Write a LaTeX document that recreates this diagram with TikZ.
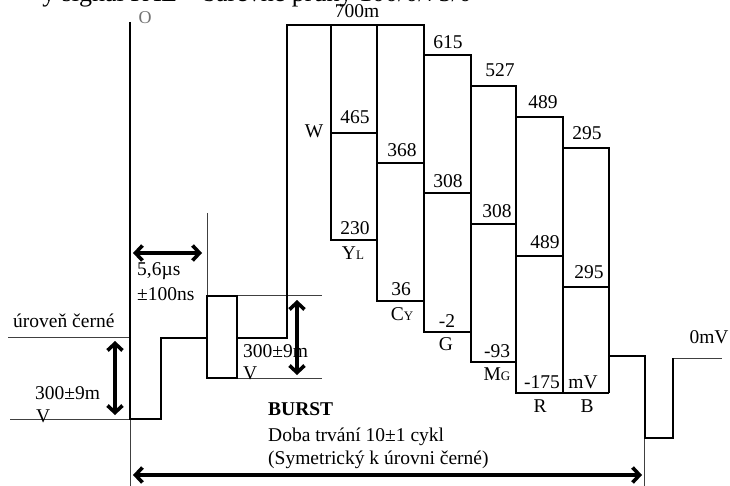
\documentclass[tikz,border=0pt]{standalone}
\usepackage{fontspec}
\setmainfont{Liberation Serif}
\usetikzlibrary{arrows.meta}
\newcommand{\smlet}[1]{{\fontsize{13}{15}\selectfont #1}}
\begin{document}
\begin{tikzpicture}[x=1pt,y=-1pt,
  sig/.style={line width=1.6pt, line join=miter},
  thinln/.style={line width=0.6pt, black!75},
  dbl/.style={line width=3.6pt, {Straight Barb[length=7pt,width=15pt]}-{Straight Barb[length=7pt,width=15pt]}},
  lbl/.style={font=\fontsize{19.5}{23}\selectfont, inner sep=0pt},
  num/.style={lbl, anchor=base},
  lft/.style={lbl, anchor=base west},
]
\useasboundingbox (0,0) rectangle (730,486);
\clip (0,0) rectangle (730,486);

% title (cut off at top)
\node[inner sep=0pt, font=\fontsize{26}{30}\selectfont, anchor=base east] (title) at (472,2) {y signál PAL – barevné pruhy 100/0/75/0};
\node[inner sep=0pt, text=black!55, font=\fontsize{18}{20}\selectfont] (o) at (145,18) {O};

% thin reference lines
\draw[thinln] (8,337) -- (130,337);
\draw[thinln] (10,419) -- (130,419);
\draw[thinln] (130,419) -- (130,486);
\draw[thinln] (207,213) -- (207,296);
\draw[thinln] (237,295) -- (322,295);
\draw[thinln] (237,378) -- (322,378);
\draw[thinln] (644,408) -- (644,486);
\draw[thinln] (673,358) -- (722,358);

% signal
\draw[sig] (130,22) -- (130,419) -- (161,419) -- (161,338) -- (207,338);
\draw[sig] (207,296) rectangle (237,378);
\draw[sig] (237,338) -- (287,338) -- (287,25) -- (424,25) -- (424,55) -- (471,55)
  -- (471,86) -- (516,86) -- (516,117) -- (563,117) -- (563,148) -- (609,148)
  -- (609,356) -- (645,356) -- (645,438) -- (673,438) -- (673,358);

% colour bar columns
\draw[sig] (331,25) -- (331,240) -- (377,240);
\draw[sig] (331,133) -- (377,133);
\draw[sig] (377,25) -- (377,301) -- (424,301);
\draw[sig] (377,163) -- (424,163);
\draw[sig] (424,55) -- (424,332) -- (471,332);
\draw[sig] (424,193) -- (471,193);
\draw[sig] (471,86) -- (471,362) -- (516,362);
\draw[sig] (471,224) -- (516,224);
\draw[sig] (516,117) -- (516,393) -- (609,393);
\draw[sig] (516,256) -- (563,256);
\draw[sig] (563,148) -- (563,393);
\draw[sig] (563,287) -- (609,287);
\draw[sig] (609,356) -- (609,393);

% labels on bars
\node[num] (l700) at (357,18) {700m};
\node[num] (l615) at (448,49) {615};
\node[num] (l527) at (500,77) {527};
\node[num] (l489a) at (543,109) {489};
\node[num] (l295a) at (587,140) {295};
\node[num] (lw) at (314,138) {W};
\node[num] (l465) at (355,124) {465};
\node[num] (l230) at (355,234) {230};
\node[num] (lyl) at (353,259) {Y\smlet{L}};
\node[num] (l368) at (402,157) {368};
\node[num] (l36) at (401,295) {36};
\node[num] (lcy) at (402,320) {C\smlet{Y}};
\node[num] (l308a) at (448,188) {308};
\node[num] (lm2) at (447,327) {-2};
\node[num] (lg) at (446,350) {G};
\node[num] (l308b) at (497,218) {308};
\node[num] (lm93) at (497,357) {-93};
\node[num] (lmg) at (497,380) {M\smlet{G}};
\node[num] (l489b) at (545,248) {489};
\node[num] (l295b) at (589,278) {295};
\node[num] (lm175) at (542,388) {-175};
\node[num] (lmv) at (583,388) {mV};
\node[num] (lr) at (540,412) {R};
\node[num] (lb) at (587,412) {B};
\node[num] (l0mv) at (709,343) {0mV};

% left labels
\node[lft] (black) at (13,327) {úroveň černé};
\node[lft] (t56) at (137,275) {5,6µs};
\node[lft] (t100) at (137,300) {±100ns};
\node[lft] (s300a) at (35,399) {300±9m};
\node[lft] (s300av) at (36,422) {V};
\node[lft] (s300b) at (243,357) {300±9m};
\node[lft] (s300bv) at (243,379) {V};
\node[lft, font=\fontsize{19.5}{23}\selectfont\bfseries] (burst) at (268,415) {BURST};
\node[lft] (doba) at (268,441) {Doba trvání 10±1 cykl};
\node[lft] (sym) at (268,464) {(Symetrický k úrovni černé)};

% arrows
\draw[dbl] (115,341) -- (115,415);
\draw[dbl] (133,253) -- (202,253);
\draw[dbl] (297,300) -- (297,375);
\draw[dbl] (133,475) -- (642,475);
\end{tikzpicture}
\end{document}
